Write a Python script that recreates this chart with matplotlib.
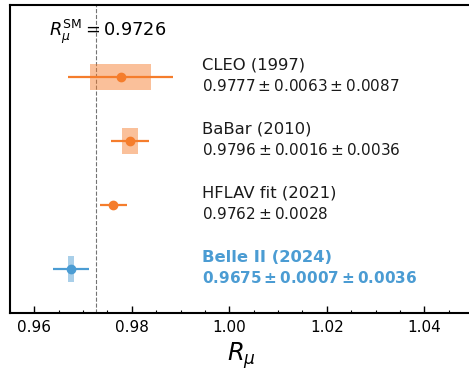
import matplotlib
matplotlib.use('Agg')
import matplotlib.pyplot as plt

# measurements (top to bottom)
names = ['CLEO (1997)', 'BaBar (2010)', 'HFLAV fit (2021)', 'Belle II (2024)']
central = [0.9777, 0.9796, 0.9762, 0.9675]
stat = [0.0063, 0.0016, 0.0028, 0.0007]
syst = [0.0087, 0.0036, None, 0.0036]
ypos = [4, 3, 2, 1]
r_sm = 0.9726

orange = '#f57d2c'
blue = '#4b9cd3'
colors = [orange, orange, orange, blue]

fig = plt.figure(figsize=(4.69, 3.73), dpi=100)
ax = fig.add_axes([10 / 469, 60 / 373, 463 / 469, 308 / 373])

ax.axvline(r_sm, color='0.45', linestyle='--', linewidth=0.8, zorder=1)
ax.text(0.9631, 4.70, r'$R_\mu^{\rm SM} = 0.9726$', fontsize=12.8, va='center', ha='left')

for name, c, s, sy, y, col in zip(names, central, stat, syst, ypos, colors):
    if sy is not None:
        tot = (s ** 2 + sy ** 2) ** 0.5
        # stat box + total error line
        ax.fill_between([c - s, c + s], y - 0.2, y + 0.2, color=col, alpha=0.48, linewidth=0, zorder=2)
        ax.errorbar(c, y, xerr=tot, fmt='o', color=col, markersize=6, elinewidth=1.6, capsize=0, zorder=3)
        if col == blue:
            val = r'$\mathbf{%.4f \pm %.4f \pm %.4f}$' % (c, s, sy)
        else:
            val = r'$%.4f \pm %.4f \pm %.4f$' % (c, s, sy)
    else:
        ax.errorbar(c, y, xerr=s, fmt='o', color=col, markersize=6, elinewidth=1.6, capsize=0, zorder=3)
        val = r'$%.4f \pm %.4f$' % (c, s)
    bold = 'bold' if col == blue else 'normal'
    tcol = blue if col == blue else '0.1'
    ax.text(0.9943, y + 0.18, name, fontsize=11.8, color=tcol, fontweight=bold, va='center', ha='left')
    ax.text(0.9943, y - 0.14, val, fontsize=11, color=tcol, va='center', ha='left')

ax.set_xlim(0.955, 1.05)
ax.set_ylim(0.31, 5.12)
ax.set_yticks([])
ax.set_xticks([0.96, 0.98, 1.00, 1.02, 1.04])
ax.set_xticklabels(['0.96', '0.98', '1.00', '1.02', '1.04'])
ax.xaxis.set_minor_locator(matplotlib.ticker.MultipleLocator(0.005))
ax.tick_params(axis='x', which='major', direction='in', length=5, width=1, labelsize=11, pad=5)
ax.tick_params(axis='x', which='minor', direction='in', length=2.5, width=0.8)
for sp in ax.spines.values():
    sp.set_linewidth(1.5)
ax.set_xlabel(r'$R_\mu$', fontsize=17.5, labelpad=4)

fig.savefig('out.png', dpi=100)
